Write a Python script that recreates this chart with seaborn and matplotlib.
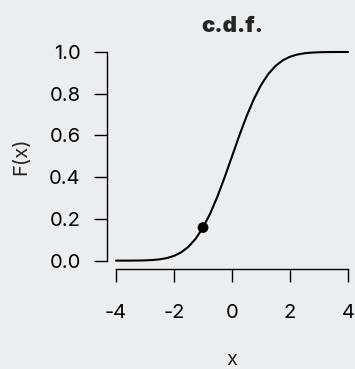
import matplotlib
matplotlib.use("Agg")
import matplotlib.pyplot as plt
import seaborn as sns
import pandas as pd

# values (normal c.d.f.)
x_vals = [-4.0, -3.75, -3.5, -3.25, -3.0, -2.75, -2.5, -2.25, -2.0, -1.75, -1.5,
          -1.25, -1.0, -0.75, -0.5, -0.25, 0.0, 0.25, 0.5, 0.75, 1.0, 1.25,
          1.5, 1.75, 2.0, 2.25, 2.5, 2.75, 3.0, 3.25, 3.5, 3.75, 4.0]
F_vals = [0.00003, 0.00009, 0.00023, 0.00058, 0.00135, 0.00298, 0.00621,
          0.01222, 0.02275, 0.04006, 0.06681, 0.10565, 0.15866, 0.22663,
          0.30854, 0.40129, 0.5, 0.59871, 0.69146, 0.77337, 0.84134, 0.89435,
          0.93319, 0.95994, 0.97725, 0.98778, 0.99379, 0.99702, 0.99865,
          0.99942, 0.99977, 0.99991, 0.99997]
point_x = [-1.0]
point_F = [0.15866]

x_ticks = [-4, -2, 0, 2, 4]
y_ticks = [0.0, 0.2, 0.4, 0.6, 0.8, 1.0]

bg = "#ebeef0"
sns.set_theme(style="ticks")
plt.rcParams["font.family"] = ["Inter", "DejaVu Sans"]

curve = pd.DataFrame({"x": x_vals, "F": F_vals})
pt = pd.DataFrame({"x": point_x, "F": point_F})

fig = plt.figure(figsize=(3.55, 3.69), dpi=100, facecolor=bg)
ax = fig.add_axes([0.3006, 0.271, 0.706, 0.6108])
ax.set_facecolor(bg)

sns.lineplot(data=curve, x="x", y="F", color="black", linewidth=1.5, ax=ax)
sns.scatterplot(data=pt, x="x", y="F", color="black", s=60, edgecolor="none", ax=ax, zorder=3)

# R-style 4% padding and detached axes
ax.set_xlim(-4.32, 4.32)
ax.set_ylim(-0.04, 1.04)
for s in ["top", "right"]:
    ax.spines[s].set_visible(False)
ax.spines["left"].set_bounds(0, 1)
ax.spines["bottom"].set_bounds(-4, 4)
for s in ["left", "bottom"]:
    ax.spines[s].set_linewidth(1.0)
    ax.spines[s].set_color("black")

ax.set_xticks(x_ticks)
ax.set_xticklabels([str(t) for t in x_ticks])
ax.set_yticks(y_ticks)
ax.set_yticklabels([f"{t:.1f}" for t in y_ticks])
ax.tick_params(axis="x", length=9.4, width=1.0, pad=15.5, labelsize=14.5, colors="black")
ax.tick_params(axis="y", length=9.4, width=1.0, pad=9.3, labelsize=14.5, colors="black")

ax.set_xlabel("x", fontsize=14.5, labelpad=21)
ax.set_ylabel("F(x)", fontsize=14.5, labelpad=13.5)
ax.set_title("c.d.f.", fontsize=16, fontweight="black", pad=8.5)

fig.savefig("out.png", dpi=100, facecolor=bg)
